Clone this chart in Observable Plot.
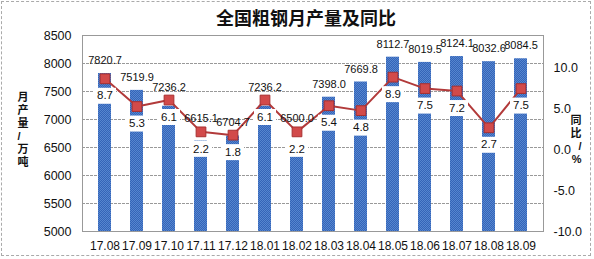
<!DOCTYPE html>
<html><head><meta charset="utf-8">
<script src="https://cdn.jsdelivr.net/npm/d3@7"></script>
<script src="https://cdn.jsdelivr.net/npm/@observablehq/plot@0.6"></script>
<style>
body{margin:0;background:#fff;}
#wrap{position:relative;width:594px;height:259px;overflow:hidden;font-family:"Liberation Sans",Arial,sans-serif;background:#fff;}
#border{position:absolute;left:1px;top:1px;width:588px;height:253px;border:1px dashed #aaa;pointer-events:none;}
#title{position:absolute;left:0;width:612px;top:5px;text-align:center;font-family:"Noto Sans CJK SC",sans-serif;font-weight:bold;font-size:18px;line-height:24px;color:#111;}
#chart{position:absolute;left:0;top:0;}
</style></head><body>
<div id="wrap">
<div id="chart"></div>
<div id="title">全国粗钢月产量及同比</div>
<div id="border"></div>
</div>
<script>
const months = ["17.08","17.09","17.10","17.11","17.12","18.01","18.02","18.03","18.04","18.05","18.06","18.07","18.08","18.09"];
const output = [7820.7,7519.9,7236.2,6615.1,6704.7,7236.2,6500.0,7398.0,7669.8,8112.7,8019.5,8124.1,8032.6,8084.5];
const yoy = [8.7,5.3,6.1,2.2,1.8,6.1,2.2,5.4,4.8,8.9,7.5,7.2,2.7,7.5];
const leftTicks = [5000,5500,6000,6500,7000,7500,8000,8500];
const rightTicks = [-10,-5,0,5,10];
const leftDomain = [5000,8500];
const rightDomain = [-10,14];
const leftTitle = "月产量/万吨";
const rightTitle = "同比/%";

const k = (leftDomain[1]-leftDomain[0])/(rightDomain[1]-rightDomain[0]);
const toL = p => leftDomain[0] + (p - rightDomain[0]) * k;
const fromL = v => rightDomain[0] + (v - leftDomain[0]) / k;

const data = months.map((m,i)=>({m, v: output[i], p: yoy[i], pl: toL(yoy[i])}));

const boxSymbol = {draw(ctx){ ctx.moveTo(-11,-8); ctx.lineTo(11,-8); ctx.lineTo(11,8); ctx.lineTo(-11,8); ctx.closePath(); }};
const vfont = '"Liberation Sans", "Noto Sans CJK SC", sans-serif';

const chart = Plot.plot({
  width: 594, height: 259,
  marginLeft: 82, marginRight: 51, marginTop: 35, marginBottom: 28,
  style: {fontFamily: '"Liberation Sans", Arial, sans-serif', color: "#111", background: "transparent"},
  x: {domain: months, paddingInner: 0.6, paddingOuter: 0.3},
  y: {domain: leftDomain},
  marks: [
    Plot.gridY(leftTicks, {stroke: "#999", strokeOpacity: 1, strokeDasharray: "3,1"}),
    Plot.barY(data, {x: "m", y1: leftDomain[0], y2: "v", fill: "url(#steelHatch)"}),
    Plot.frame({stroke: "#999"}),
    Plot.axisY(leftTicks, {tickSize: 0, tickPadding: 11, fontSize: 12.5, label: null, tickFormat: d3.format("d")}),
    Plot.axisY(rightTicks.map(toL), {anchor: "right", tickSize: 0, tickPadding: 10, fontSize: 12.5, label: null,
      tickFormat: d => (Math.round(fromL(d)*10)/10).toFixed(1)}),
    Plot.axisX({tickSize: 0, tickPadding: 10, fontSize: 12, label: null}),
    Plot.text([[...leftTitle].join("\n")], {frameAnchor: "left", text: d => d, dx: -65, dy: -4, lineHeight: 1.18,
      fontFamily: vfont, fontWeight: "bold", fontSize: 11, fill: "#111"}),
    Plot.text([[...rightTitle].join("\n")], {frameAnchor: "right", text: d => d, dx: 38, dy: 6, lineHeight: 1.18,
      fontFamily: vfont, fontWeight: "bold", fontSize: 11, fill: "#111"}),
    Plot.line(data, {x: "m", y: "pl", stroke: "#b23a3a", strokeWidth: 2}),
    Plot.dot(data, {x: "m", y: "pl", symbol: "square", r: 5.5, fill: "#d24a4a", stroke: "#a83030", strokeWidth: 1}),
    Plot.text(data, {x: "m", y: d => Math.max(d.v, d.pl), text: d => d.v.toFixed(1), dy: -13, fontSize: 11, fill: "#111"}),
    Plot.dot(data, {x: "m", y: "pl", dy: 17, symbol: boxSymbol, r: 5, fill: "white", stroke: "none"}),
    Plot.text(data, {x: "m", y: "pl", dy: 17, text: d => d.p.toFixed(1), fontSize: 11.5, fill: "#111"})
  ]
});
const defs = document.createElementNS("http://www.w3.org/2000/svg", "defs");
defs.innerHTML = '<pattern id="steelHatch" width="2" height="2" patternUnits="userSpaceOnUse">' +
  '<rect width="2" height="2" fill="#3464b8"/><rect width="1" height="1" fill="#5686cf"/><rect x="1" y="1" width="1" height="1" fill="#5686cf"/></pattern>';
chart.insertBefore(defs, chart.firstChild);
document.getElementById("chart").appendChild(chart);
</script>
</body></html>
